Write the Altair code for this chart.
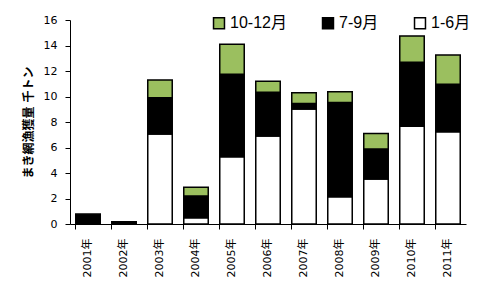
import altair as alt
import pandas as pd

years = ["2001年", "2002年", "2003年", "2004年", "2005年", "2006年",
         "2007年", "2008年", "2009年", "2010年", "2011年"]
q1_6 = [0.0, 0.0, 7.05, 0.5, 5.28, 6.9, 9.02, 2.14, 3.53, 7.66, 7.24]
q7_9 = [0.78, 0.18, 2.85, 1.7, 6.46, 3.43, 0.44, 7.38, 2.35, 5.02, 3.72]
q10_12 = [0.0, 0.0, 1.4, 0.68, 2.36, 0.87, 0.84, 0.86, 1.21, 2.07, 2.29]
periods = ["10-12月", "7-9月", "1-6月"]
colors = ["#9bbf5f", "#000000", "#ffffff"]
y_ticks = [0, 2, 4, 6, 8, 10, 12, 14, 16]

rows = []
for i, y in enumerate(years):
    for p, vals, o in [("1-6月", q1_6, 0), ("7-9月", q7_9, 1), ("10-12月", q10_12, 2)]:
        rows.append({"year": y, "period": p, "value": vals[i], "ord": o})
df = pd.DataFrame(rows)

FONT = "DejaVu Sans, Noto Sans CJK JP"
LFONT = "Liberation Sans, Noto Sans CJK JP"

chart = alt.Chart(df).transform_filter("datum.value > 0").mark_bar(
    stroke="black", strokeWidth=1.5
).encode(
    x=alt.X("year:N", sort=years, title=None,
            scale=alt.Scale(paddingInner=0.32, paddingOuter=0.16),
            axis=alt.Axis(labelAngle=-90, bandPosition=0,
                          labelFont=FONT, labelFontSize=11, labelColor="#000",
                          tickSize=5, tickColor="#000", domainColor="#000",
                          labelPadding=9)),
    y=alt.Y("value:Q", stack="zero", scale=alt.Scale(domain=[0, 16], nice=False),
            axis=alt.Axis(values=y_ticks, grid=False, title="まき網漁獲量  千トン",
                          titleFont=FONT, titleFontSize=12, titleFontWeight="bold",
                          titleColor="#000", titlePadding=8,
                          labelFont=FONT, labelFontSize=11, labelColor="#000",
                          tickSize=5, tickColor="#000", domainColor="#000",
                          labelPadding=8)),
    color=alt.Color("period:N", scale=alt.Scale(domain=periods, range=colors),
                    legend=alt.Legend(title=None, orient="none", legendX=141, legendY=-5,
                                      direction="horizontal", symbolType="square",
                                      symbolSize=120, symbolStrokeColor="black",
                                      symbolStrokeWidth=1.5, symbolOpacity=1,
                                      labelFont=LFONT, labelFontSize=16, labelColor="#000",
                                      columnPadding=32, labelOffset=3, labelLimit=200)),
    order=alt.Order("ord:Q", sort="ascending"),
).properties(
    width=396, height=204,
    padding={"left": 70, "top": 20, "right": 14, "bottom": 62},
    autosize=alt.AutoSizeParams(type="none"),
).configure_view(stroke=None)

chart.save("out.html", embed_options={"renderer": "svg", "actions": False})
